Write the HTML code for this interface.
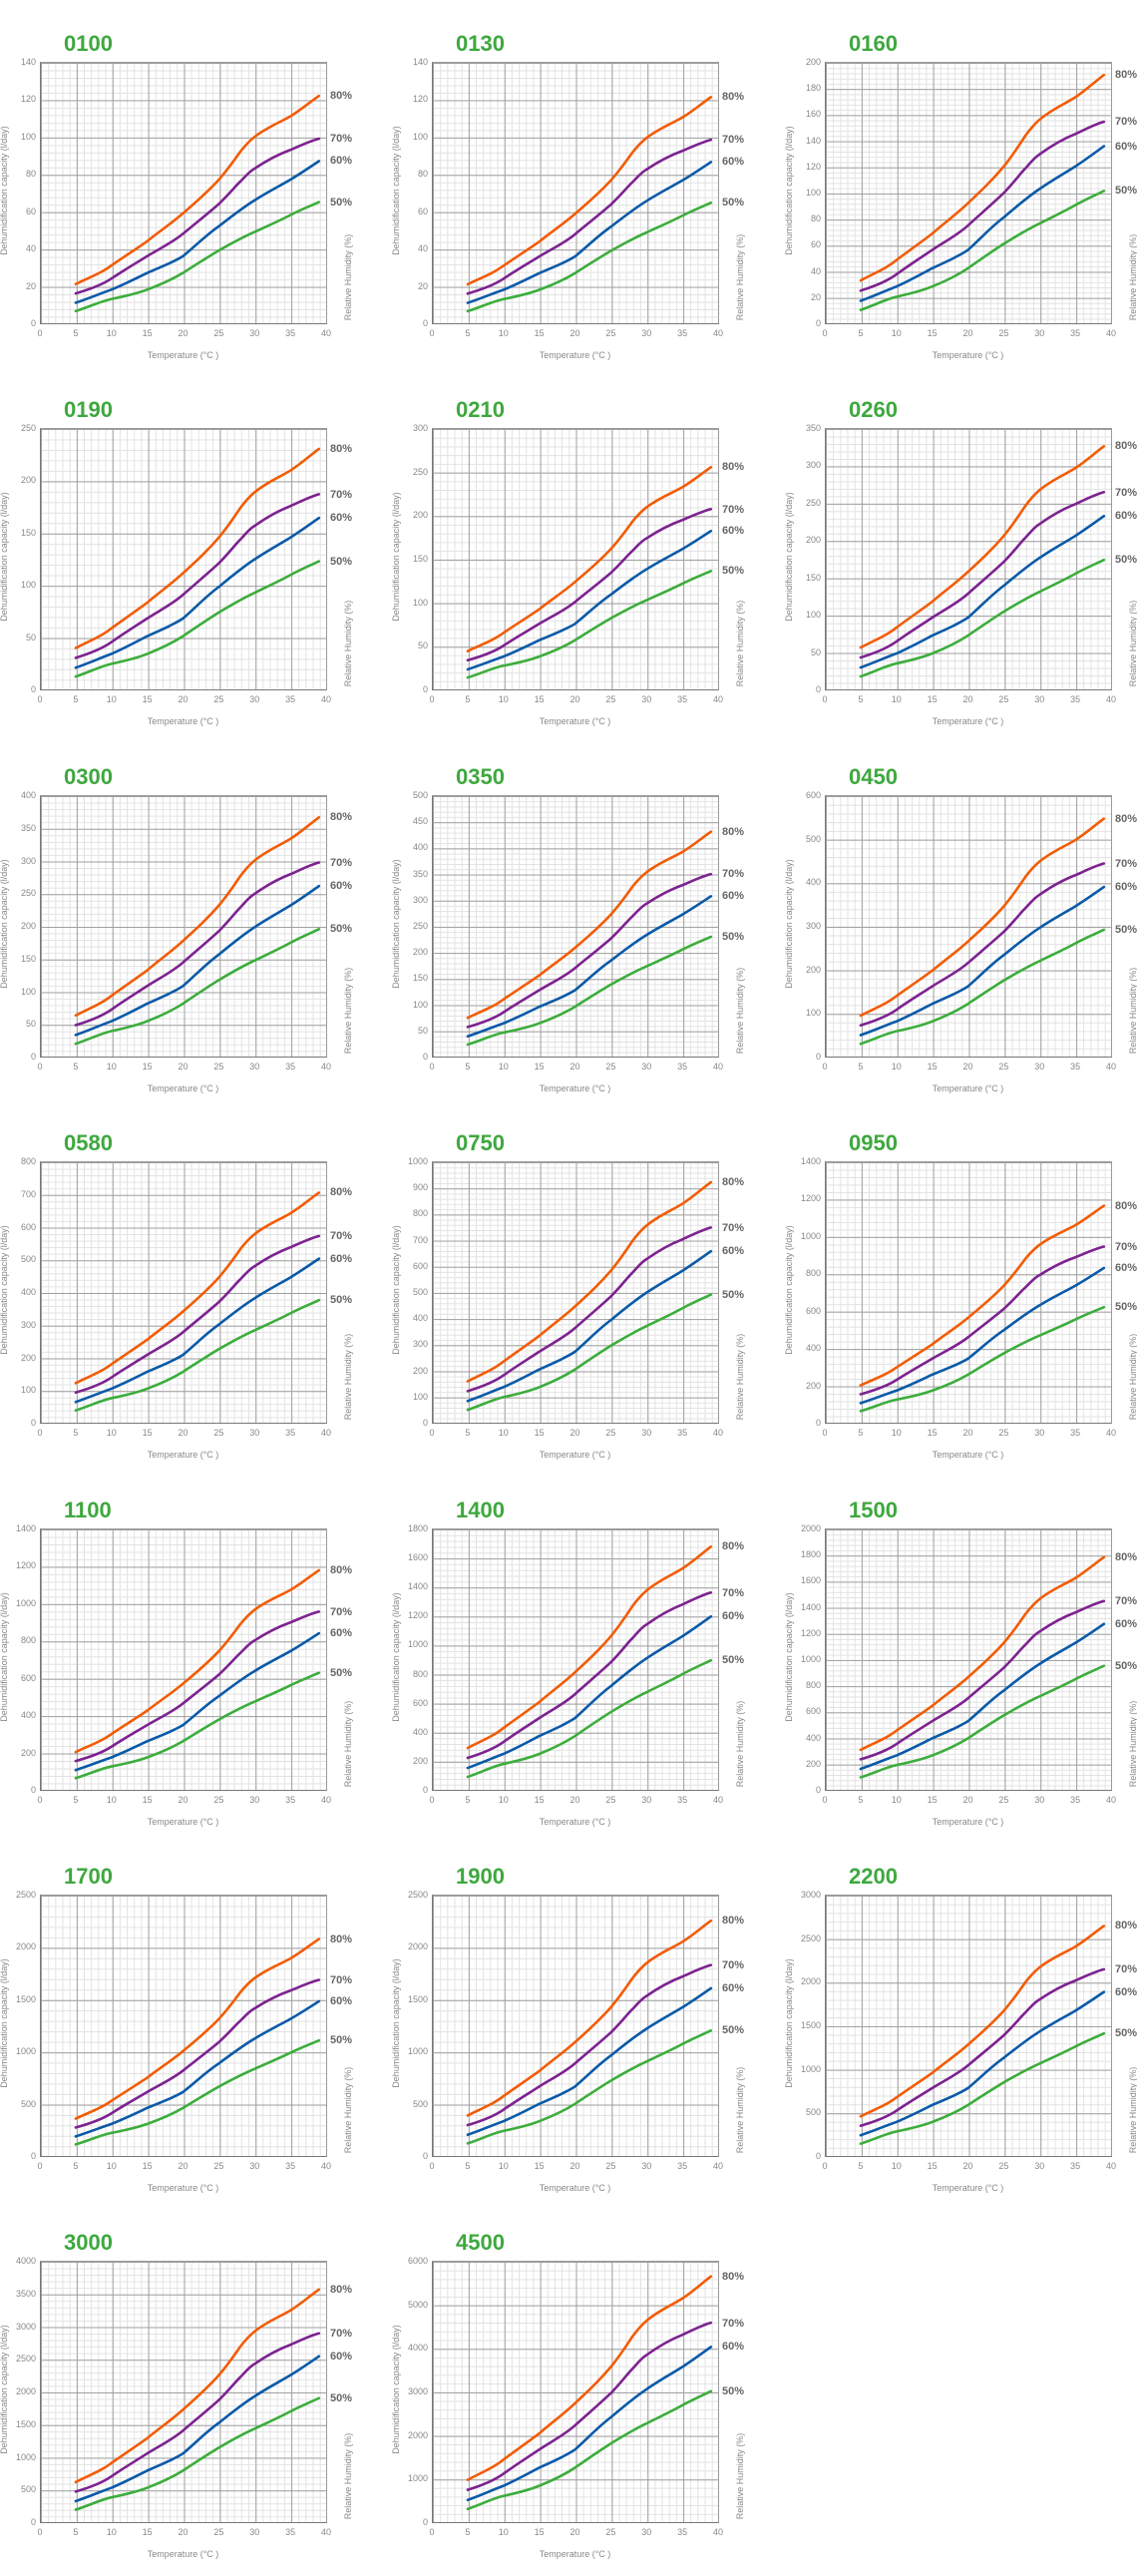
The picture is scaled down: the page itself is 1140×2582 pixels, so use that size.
<!DOCTYPE html>
<html><head><meta charset="utf-8"><style>
body{margin:0;background:#fff;width:1140px;height:2564px;position:relative;overflow:hidden;font-family:"Liberation Sans",sans-serif;}
.c{position:absolute;width:287px;height:262px;}
.t{position:absolute;left:24px;top:-31px;font-size:22px;font-weight:bold;color:#3ea83e;}
.p{position:absolute;left:0;top:0;width:286px;height:261px;border:1px solid #9a9a9a;border-left-color:#777;border-bottom-color:#777;
background-image:
linear-gradient(to right,#a0a0a0 1px,transparent 1px),
linear-gradient(to bottom,#a0a0a0 1px,transparent 1px),
linear-gradient(to right,#e2e2e2 1px,transparent 1px),
linear-gradient(to bottom,#e2e2e2 1px,transparent 1px);
background-size:35.875px 100%,100% calc(262px / var(--n)),7.175px 100%,100% calc(262px / var(--n) / 5);}
.p svg{position:absolute;left:-1px;top:-1px;overflow:visible}
.yl{position:absolute;right:291px;top:-6px;height:274px;display:flex;flex-direction:column;justify-content:space-between;font-size:9px;color:#888;text-align:right;line-height:12px}
.xl{position:absolute;left:-10px;top:266px;width:307px;display:flex;justify-content:space-between;font-size:9px;color:#888;line-height:12px}
.xl span{width:20px;text-align:center}
.xt{position:absolute;left:0;width:287px;top:289px;text-align:center;font-size:9px;color:#888}
.ya{position:absolute;left:-136px;top:124px;width:200px;text-align:center;font-size:9px;color:#888;transform:rotate(-90deg);white-space:nowrap}
.rh{position:absolute;left:209px;top:211px;width:200px;text-align:center;font-size:9px;color:#888;transform:rotate(-90deg);white-space:nowrap}
.l{position:absolute;left:291px;font-size:11px;font-weight:bold;color:#666;line-height:12px}
.l8{top:calc(262px - 262px * var(--f) - 6px)}
.l7{top:calc(262px - 262px * var(--f) * 0.81 - 6px)}
.l6{top:calc(262px - 262px * var(--f) * 0.713 - 6px)}
.l5{top:calc(262px - 262px * var(--f) * 0.533 - 6px)}
.g{transform:translate(0px,262px) scale(1,calc(var(--f) * -1));}
</style></head><body>
<svg width="0" height="0" style="position:absolute"><defs><g id="cv" fill="none" stroke-width="2.6" stroke-linejoin="round" stroke-linecap="round">
<path vector-effect="non-scaling-stroke" stroke="#3cad3c" d="M35.9,14 C50,19 60,25 71.75,27.9 C85,31 97,34 107.6,38.7 C120,44 132,50 143.5,58 C157,68 168,76 179.4,83.8 C192,92 203,99 215.3,105.2 C228,112 240,118 251.1,124.6 C262,131 271,135 279.8,139.6"/>
<path vector-effect="non-scaling-stroke" stroke="#0a5aa8" d="M35.9,23.6 C50,29 60,34 71.75,38.7 C85,45 97,52 107.6,58 C118,63 124,66 129.2,68.7 C135,72 139,74 143.5,77.3 C157,90 166,101 179.4,111.7 C192,123 203,133 215.3,141.7 C228,151 240,158 251.1,165.4 C262,173 271,180 279.8,186.8"/>
<path vector-effect="non-scaling-stroke" stroke="#7d2290" d="M35.9,34.4 C50,39 62,44 71.75,51.5 C84,61 96,69 107.6,77.3 C120,86 133,93 143.5,103.1 C157,116 168,126 179.4,137.4 C190,149 196,158 200.9,163.2 C206,169 210,175 215.3,178.2 C228,188 240,195 251.1,199.7 C262,205 271,210 279.8,212.6"/>
<path vector-effect="non-scaling-stroke" stroke="#f25c05" d="M35.9,45.1 C50,53 62,58 71.75,66.6 C85,77 97,86 107.6,94.5 C120,106 133,116 143.5,126.7 C157,140 168,151 179.4,165.4 C189,178 195,188 200.9,197.6 C206,205 210,210 215.3,214.8 C228,226 240,231 251.1,238.4 C262,246 271,255 279.8,262"/>
</g></defs></svg>

<!-- Row 1 -->
<div class="c" style="left:40px;top:62px;--n:7;--f:.87"><div class="p"><svg width="287" height="262"><g class="g"><use href="#cv"/></g></svg></div><div class="t">0100</div><div class="yl"><span>140</span><span>120</span><span>100</span><span>80</span><span>60</span><span>40</span><span>20</span><span>0</span></div><div class="xl"><span>0</span><span>5</span><span>10</span><span>15</span><span>20</span><span>25</span><span>30</span><span>35</span><span>40</span></div><div class="xt">Temperature (°C )</div><div class="ya">Dehumidification capacity (l/day)</div><div class="rh">Relative Humidity (%)</div><div class="l l8">80%</div><div class="l l7">70%</div><div class="l l6">60%</div><div class="l l5">50%</div></div>

<div class="c" style="left:433px;top:62px;--n:7;--f:.865"><div class="p"><svg width="287" height="262"><g class="g"><use href="#cv"/></g></svg></div><div class="t">0130</div><div class="yl"><span>140</span><span>120</span><span>100</span><span>80</span><span>60</span><span>40</span><span>20</span><span>0</span></div><div class="xl"><span>0</span><span>5</span><span>10</span><span>15</span><span>20</span><span>25</span><span>30</span><span>35</span><span>40</span></div><div class="xt">Temperature (°C )</div><div class="ya">Dehumidification capacity (l/day)</div><div class="rh">Relative Humidity (%)</div><div class="l l8">80%</div><div class="l l7">70%</div><div class="l l6">60%</div><div class="l l5">50%</div></div>

<div class="c" style="left:827px;top:62px;--n:10;--f:.95"><div class="p"><svg width="287" height="262"><g class="g"><use href="#cv"/></g></svg></div><div class="t">0160</div><div class="yl"><span>200</span><span>180</span><span>160</span><span>140</span><span>120</span><span>100</span><span>80</span><span>60</span><span>40</span><span>20</span><span>0</span></div><div class="xl"><span>0</span><span>5</span><span>10</span><span>15</span><span>20</span><span>25</span><span>30</span><span>35</span><span>40</span></div><div class="xt">Temperature (°C )</div><div class="ya">Dehumidification capacity (l/day)</div><div class="rh">Relative Humidity (%)</div><div class="l l8">80%</div><div class="l l7">70%</div><div class="l l6">60%</div><div class="l l5">50%</div></div>

<!-- Row 2 -->
<div class="c" style="left:40px;top:429px;--n:5;--f:.92"><div class="p"><svg width="287" height="262"><g class="g"><use href="#cv"/></g></svg></div><div class="t">0190</div><div class="yl"><span>250</span><span>200</span><span>150</span><span>100</span><span>50</span><span>0</span></div><div class="xl"><span>0</span><span>5</span><span>10</span><span>15</span><span>20</span><span>25</span><span>30</span><span>35</span><span>40</span></div><div class="xt">Temperature (°C )</div><div class="ya">Dehumidification capacity (l/day)</div><div class="rh">Relative Humidity (%)</div><div class="l l8">80%</div><div class="l l7">70%</div><div class="l l6">60%</div><div class="l l5">50%</div></div>

<div class="c" style="left:433px;top:429px;--n:6;--f:.85"><div class="p"><svg width="287" height="262"><g class="g"><use href="#cv"/></g></svg></div><div class="t">0210</div><div class="yl"><span>300</span><span>250</span><span>200</span><span>150</span><span>100</span><span>50</span><span>0</span></div><div class="xl"><span>0</span><span>5</span><span>10</span><span>15</span><span>20</span><span>25</span><span>30</span><span>35</span><span>40</span></div><div class="xt">Temperature (°C )</div><div class="ya">Dehumidification capacity (l/day)</div><div class="rh">Relative Humidity (%)</div><div class="l l8">80%</div><div class="l l7">70%</div><div class="l l6">60%</div><div class="l l5">50%</div></div>

<div class="c" style="left:827px;top:429px;--n:7;--f:.93"><div class="p"><svg width="287" height="262"><g class="g"><use href="#cv"/></g></svg></div><div class="t">0260</div><div class="yl"><span>350</span><span>300</span><span>250</span><span>200</span><span>150</span><span>100</span><span>50</span><span>0</span></div><div class="xl"><span>0</span><span>5</span><span>10</span><span>15</span><span>20</span><span>25</span><span>30</span><span>35</span><span>40</span></div><div class="xt">Temperature (°C )</div><div class="ya">Dehumidification capacity (l/day)</div><div class="rh">Relative Humidity (%)</div><div class="l l8">80%</div><div class="l l7">70%</div><div class="l l6">60%</div><div class="l l5">50%</div></div>

<!-- Row 3 -->
<div class="c" style="left:40px;top:797px;--n:8;--f:.915"><div class="p"><svg width="287" height="262"><g class="g"><use href="#cv"/></g></svg></div><div class="t">0300</div><div class="yl"><span>400</span><span>350</span><span>300</span><span>250</span><span>200</span><span>150</span><span>100</span><span>50</span><span>0</span></div><div class="xl"><span>0</span><span>5</span><span>10</span><span>15</span><span>20</span><span>25</span><span>30</span><span>35</span><span>40</span></div><div class="xt">Temperature (°C )</div><div class="ya">Dehumidification capacity (l/day)</div><div class="rh">Relative Humidity (%)</div><div class="l l8">80%</div><div class="l l7">70%</div><div class="l l6">60%</div><div class="l l5">50%</div></div>

<div class="c" style="left:433px;top:797px;--n:10;--f:.86"><div class="p"><svg width="287" height="262"><g class="g"><use href="#cv"/></g></svg></div><div class="t">0350</div><div class="yl"><span>500</span><span>450</span><span>400</span><span>350</span><span>300</span><span>250</span><span>200</span><span>150</span><span>100</span><span>50</span><span>0</span></div><div class="xl"><span>0</span><span>5</span><span>10</span><span>15</span><span>20</span><span>25</span><span>30</span><span>35</span><span>40</span></div><div class="xt">Temperature (°C )</div><div class="ya">Dehumidification capacity (l/day)</div><div class="rh">Relative Humidity (%)</div><div class="l l8">80%</div><div class="l l7">70%</div><div class="l l6">60%</div><div class="l l5">50%</div></div>

<div class="c" style="left:827px;top:797px;--n:6;--f:.91"><div class="p"><svg width="287" height="262"><g class="g"><use href="#cv"/></g></svg></div><div class="t">0450</div><div class="yl"><span>600</span><span>500</span><span>400</span><span>300</span><span>200</span><span>100</span><span>0</span></div><div class="xl"><span>0</span><span>5</span><span>10</span><span>15</span><span>20</span><span>25</span><span>30</span><span>35</span><span>40</span></div><div class="xt">Temperature (°C )</div><div class="ya">Dehumidification capacity (l/day)</div><div class="rh">Relative Humidity (%)</div><div class="l l8">80%</div><div class="l l7">70%</div><div class="l l6">60%</div><div class="l l5">50%</div></div>

<!-- Row 4 -->
<div class="c" style="left:40px;top:1164px;--n:8;--f:.88"><div class="p"><svg width="287" height="262"><g class="g"><use href="#cv"/></g></svg></div><div class="t">0580</div><div class="yl"><span>800</span><span>700</span><span>600</span><span>500</span><span>400</span><span>300</span><span>200</span><span>100</span><span>0</span></div><div class="xl"><span>0</span><span>5</span><span>10</span><span>15</span><span>20</span><span>25</span><span>30</span><span>35</span><span>40</span></div><div class="xt">Temperature (°C )</div><div class="ya">Dehumidification capacity (l/day)</div><div class="rh">Relative Humidity (%)</div><div class="l l8">80%</div><div class="l l7">70%</div><div class="l l6">60%</div><div class="l l5">50%</div></div>

<div class="c" style="left:433px;top:1164px;--n:10;--f:.92"><div class="p"><svg width="287" height="262"><g class="g"><use href="#cv"/></g></svg></div><div class="t">0750</div><div class="yl"><span>1000</span><span>900</span><span>800</span><span>700</span><span>600</span><span>500</span><span>400</span><span>300</span><span>200</span><span>100</span><span>0</span></div><div class="xl"><span>0</span><span>5</span><span>10</span><span>15</span><span>20</span><span>25</span><span>30</span><span>35</span><span>40</span></div><div class="xt">Temperature (°C )</div><div class="ya">Dehumidification capacity (l/day)</div><div class="rh">Relative Humidity (%)</div><div class="l l8">80%</div><div class="l l7">70%</div><div class="l l6">60%</div><div class="l l5">50%</div></div>

<div class="c" style="left:827px;top:1164px;--n:7;--f:.83"><div class="p"><svg width="287" height="262"><g class="g"><use href="#cv"/></g></svg></div><div class="t">0950</div><div class="yl"><span>1400</span><span>1200</span><span>1000</span><span>800</span><span>600</span><span>400</span><span>200</span><span>0</span></div><div class="xl"><span>0</span><span>5</span><span>10</span><span>15</span><span>20</span><span>25</span><span>30</span><span>35</span><span>40</span></div><div class="xt">Temperature (°C )</div><div class="ya">Dehumidification capacity (l/day)</div><div class="rh">Relative Humidity (%)</div><div class="l l8">80%</div><div class="l l7">70%</div><div class="l l6">60%</div><div class="l l5">50%</div></div>

<!-- Row 5 -->
<div class="c" style="left:40px;top:1532px;--n:7;--f:.84"><div class="p"><svg width="287" height="262"><g class="g"><use href="#cv"/></g></svg></div><div class="t">1100</div><div class="yl"><span>1400</span><span>1200</span><span>1000</span><span>800</span><span>600</span><span>400</span><span>200</span><span>0</span></div><div class="xl"><span>0</span><span>5</span><span>10</span><span>15</span><span>20</span><span>25</span><span>30</span><span>35</span><span>40</span></div><div class="xt">Temperature (°C )</div><div class="ya">Dehumidification capacity (l/day)</div><div class="rh">Relative Humidity (%)</div><div class="l l8">80%</div><div class="l l7">70%</div><div class="l l6">60%</div><div class="l l5">50%</div></div>

<div class="c" style="left:433px;top:1532px;--n:9;--f:.93"><div class="p"><svg width="287" height="262"><g class="g"><use href="#cv"/></g></svg></div><div class="t">1400</div><div class="yl"><span>1800</span><span>1600</span><span>1400</span><span>1200</span><span>1000</span><span>800</span><span>600</span><span>400</span><span>200</span><span>0</span></div><div class="xl"><span>0</span><span>5</span><span>10</span><span>15</span><span>20</span><span>25</span><span>30</span><span>35</span><span>40</span></div><div class="xt">Temperature (°C )</div><div class="ya">Dehumidification capacity (l/day)</div><div class="rh">Relative Humidity (%)</div><div class="l l8">80%</div><div class="l l7">70%</div><div class="l l6">60%</div><div class="l l5">50%</div></div>

<div class="c" style="left:827px;top:1532px;--n:10;--f:.89"><div class="p"><svg width="287" height="262"><g class="g"><use href="#cv"/></g></svg></div><div class="t">1500</div><div class="yl"><span>2000</span><span>1800</span><span>1600</span><span>1400</span><span>1200</span><span>1000</span><span>800</span><span>600</span><span>400</span><span>200</span><span>0</span></div><div class="xl"><span>0</span><span>5</span><span>10</span><span>15</span><span>20</span><span>25</span><span>30</span><span>35</span><span>40</span></div><div class="xt">Temperature (°C )</div><div class="ya">Dehumidification capacity (l/day)</div><div class="rh">Relative Humidity (%)</div><div class="l l8">80%</div><div class="l l7">70%</div><div class="l l6">60%</div><div class="l l5">50%</div></div>

<!-- Row 6 -->
<div class="c" style="left:40px;top:1899px;--n:5;--f:.83"><div class="p"><svg width="287" height="262"><g class="g"><use href="#cv"/></g></svg></div><div class="t">1700</div><div class="yl"><span>2500</span><span>2000</span><span>1500</span><span>1000</span><span>500</span><span>0</span></div><div class="xl"><span>0</span><span>5</span><span>10</span><span>15</span><span>20</span><span>25</span><span>30</span><span>35</span><span>40</span></div><div class="xt">Temperature (°C )</div><div class="ya">Dehumidification capacity (l/day)</div><div class="rh">Relative Humidity (%)</div><div class="l l8">80%</div><div class="l l7">70%</div><div class="l l6">60%</div><div class="l l5">50%</div></div>

<div class="c" style="left:433px;top:1899px;--n:5;--f:.9"><div class="p"><svg width="287" height="262"><g class="g"><use href="#cv"/></g></svg></div><div class="t">1900</div><div class="yl"><span>2500</span><span>2000</span><span>1500</span><span>1000</span><span>500</span><span>0</span></div><div class="xl"><span>0</span><span>5</span><span>10</span><span>15</span><span>20</span><span>25</span><span>30</span><span>35</span><span>40</span></div><div class="xt">Temperature (°C )</div><div class="ya">Dehumidification capacity (l/day)</div><div class="rh">Relative Humidity (%)</div><div class="l l8">80%</div><div class="l l7">70%</div><div class="l l6">60%</div><div class="l l5">50%</div></div>

<div class="c" style="left:827px;top:1899px;--n:6;--f:.88"><div class="p"><svg width="287" height="262"><g class="g"><use href="#cv"/></g></svg></div><div class="t">2200</div><div class="yl"><span>3000</span><span>2500</span><span>2000</span><span>1500</span><span>1000</span><span>500</span><span>0</span></div><div class="xl"><span>0</span><span>5</span><span>10</span><span>15</span><span>20</span><span>25</span><span>30</span><span>35</span><span>40</span></div><div class="xt">Temperature (°C )</div><div class="ya">Dehumidification capacity (l/day)</div><div class="rh">Relative Humidity (%)</div><div class="l l8">80%</div><div class="l l7">70%</div><div class="l l6">60%</div><div class="l l5">50%</div></div>

<!-- Row 7 -->
<div class="c" style="left:40px;top:2266px;--n:8;--f:.89"><div class="p"><svg width="287" height="262"><g class="g"><use href="#cv"/></g></svg></div><div class="t">3000</div><div class="yl"><span>4000</span><span>3500</span><span>3000</span><span>2500</span><span>2000</span><span>1500</span><span>1000</span><span>500</span><span>0</span></div><div class="xl"><span>0</span><span>5</span><span>10</span><span>15</span><span>20</span><span>25</span><span>30</span><span>35</span><span>40</span></div><div class="xt">Temperature (°C )</div><div class="ya">Dehumidification capacity (l/day)</div><div class="rh">Relative Humidity (%)</div><div class="l l8">80%</div><div class="l l7">70%</div><div class="l l6">60%</div><div class="l l5">50%</div></div>

<div class="c" style="left:433px;top:2266px;--n:6;--f:.94"><div class="p"><svg width="287" height="262"><g class="g"><use href="#cv"/></g></svg></div><div class="t">4500</div><div class="yl"><span>6000</span><span>5000</span><span>4000</span><span>3000</span><span>2000</span><span>1000</span><span>0</span></div><div class="xl"><span>0</span><span>5</span><span>10</span><span>15</span><span>20</span><span>25</span><span>30</span><span>35</span><span>40</span></div><div class="xt">Temperature (°C )</div><div class="ya">Dehumidification capacity (l/day)</div><div class="rh">Relative Humidity (%)</div><div class="l l8">80%</div><div class="l l7">70%</div><div class="l l6">60%</div><div class="l l5">50%</div></div>

</body></html>
